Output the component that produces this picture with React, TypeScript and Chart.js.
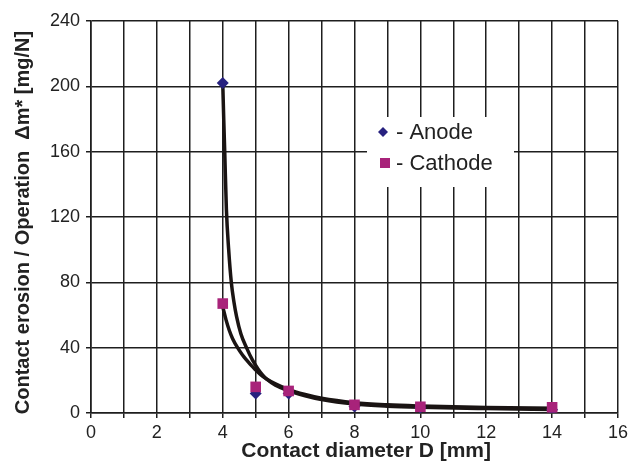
import React, { useEffect, useRef } from "react";
import { Chart, registerables } from "chart.js";

Chart.register(...registerables);

// Measured points
const diameters = [4, 5, 6, 8, 10, 14];
const anodeValues = [202, 12, 12, 4, 3.3, 2];
const cathodeValues = [67, 16, 13.5, 5, 3.8, 3.5];

// Trend curves
const anodeFitX = [4.0, 4.03, 4.06, 4.11, 4.18, 4.26, 4.34, 4.42, 4.55, 4.72, 4.9, 5.07, 5.2, 5.33, 5.6, 5.94, 6.5, 7, 8, 9, 10, 12, 14.1];
const anodeFitY = [202, 180, 160, 125, 100, 80, 68, 59, 48.5, 40, 32.5, 27, 23.5, 20.8, 17, 14, 10.5, 8.2, 5.5, 4.2, 3.5, 2.7, 2.1];
const cathodeFitX = [4.0, 4.1, 4.2, 4.3, 4.45, 4.6, 4.72, 4.85, 4.97, 5.15, 5.33, 5.6, 5.94, 6.5, 7, 8, 9, 10, 12, 14.1];
const cathodeFitY = [65, 57, 50.5, 45.5, 40, 35.5, 32.5, 29.5, 27, 23.5, 20.8, 17.8, 14.8, 11.3, 9, 6.3, 5, 4.3, 3.4, 2.9];

const xTicks = [0, 2, 4, 6, 8, 10, 12, 14, 16];
const yTicks = [0, 40, 80, 120, 160, 200, 240];

const seriesLabels = ["Anode", "Cathode"];
const anodeColor = "#27217f";
const cathodeColor = "#a8237a";
const curveColor = "#1a1413";
const gridColor = "#1e1e1e";
const textColor = "#222222";
const FONT = "'Liberation Sans', Arial, sans-serif";

const toPoints = (xs: number[], ys: number[]) => xs.map((x, i) => ({ x, y: ys[i] }));

const boxLegend = {
  id: "boxLegend",
  afterDatasetsDraw(chart: any) {
    const ctx = chart.ctx as CanvasRenderingContext2D;
    ctx.save();
    ctx.fillStyle = "#ffffff";
    ctx.fillRect(367, 117, 147, 70);
    // anode diamond
    ctx.fillStyle = anodeColor;
    ctx.beginPath();
    const dx = 383, dy = 132, r = 5;
    ctx.moveTo(dx - r, dy);
    ctx.lineTo(dx, dy - r);
    ctx.lineTo(dx + r, dy);
    ctx.lineTo(dx, dy + r);
    ctx.closePath();
    ctx.fill();
    // cathode square
    ctx.fillStyle = cathodeColor;
    ctx.fillRect(380, 158, 10, 10);
    ctx.fillStyle = textColor;
    ctx.font = `22px ${FONT}`;
    ctx.textBaseline = "alphabetic";
    ctx.textAlign = "left";
    ctx.fillText("- " + seriesLabels[0], 396, 139);
    ctx.fillText("- " + seriesLabels[1], 396, 170);
    ctx.restore();
  },
};

export default function App() {
  const ref = useRef<HTMLCanvasElement | null>(null);

  useEffect(() => {
    if (!ref.current) return;
    const chart = new Chart(ref.current, {
      type: "scatter",
      data: {
        datasets: [
          {
            label: seriesLabels[1],
            data: toPoints(diameters, cathodeValues),
            pointStyle: "rect",
            pointRadius: 7.5,
            backgroundColor: cathodeColor,
            borderColor: cathodeColor,
            borderWidth: 0,
            showLine: false,
          },
          {
            label: seriesLabels[0],
            data: toPoints(diameters, anodeValues),
            pointStyle: "rectRot",
            pointRadius: 6,
            backgroundColor: anodeColor,
            borderColor: anodeColor,
            borderWidth: 0,
            showLine: false,
          },
          {
            label: "Anode fit",
            data: toPoints(anodeFitX, anodeFitY),
            showLine: true,
            pointRadius: 0,
            borderColor: curveColor,
            borderWidth: 3.5,
            cubicInterpolationMode: "monotone",
          },
          {
            label: "Cathode fit",
            data: toPoints(cathodeFitX, cathodeFitY),
            showLine: true,
            pointRadius: 0,
            borderColor: curveColor,
            borderWidth: 3.5,
            cubicInterpolationMode: "monotone",
          },
        ],
      },
      options: {
        responsive: false,
        animation: false,
        layout: { padding: { top: 21, right: 13, left: 0, bottom: 0 } },
        plugins: {
          legend: { display: false },
          tooltip: { enabled: false },
        },
        scales: {
          x: {
            type: "linear",
            min: 0,
            max: 16,
            afterFit: (s: any) => {
              s.height = 51;
            },
            afterBuildTicks: (s: any) => {
              const t = [];
              for (let v = 0; v <= 16; v++) t.push({ value: v });
              s.ticks = t;
            },
            ticks: {
              autoSkip: false,
              maxRotation: 0,
              padding: 4,
              color: textColor,
              font: { family: FONT, size: 18 },
              callback: (v: any) => (xTicks.includes(Number(v)) ? String(v) : ""),
            },
            grid: { color: gridColor, lineWidth: 1.5, tickLength: 5, drawTicks: true },
            border: { color: gridColor, width: 1.6 },
            title: {
              display: true,
              text: "    Contact diameter D [mm]",
              color: textColor,
              font: { family: FONT, size: 21, weight: "bold" },
              padding: { top: 0, bottom: 0 },
            },
          },
          y: {
            type: "linear",
            min: 0,
            max: 240,
            afterFit: (s: any) => {
              s.width = 91;
            },
            afterBuildTicks: (s: any) => {
              s.ticks = yTicks.map((v) => ({ value: v }));
            },
            ticks: {
              padding: 6,
              color: textColor,
              font: { family: FONT, size: 18 },
            },
            grid: { color: gridColor, lineWidth: 1.5, tickLength: 5, drawTicks: true },
            border: { color: gridColor, width: 1.6 },
            title: {
              display: true,
              text: "Contact erosion / Operation  \u0394m* [mg/N]  ",
              color: textColor,
              font: { family: FONT, size: 20, weight: "bold" },
              padding: { top: 11, bottom: 0 },
            },
          },
        },
      },
      plugins: [boxLegend],
    } as any);
    return () => chart.destroy();
  }, []);

  return (
    <div style={{ position: "fixed", left: 0, top: 0, width: 632, height: 464, background: "#fff" }}>
      <canvas ref={ref} width={632} height={464} style={{ display: "block" }} />
    </div>
  );
}
